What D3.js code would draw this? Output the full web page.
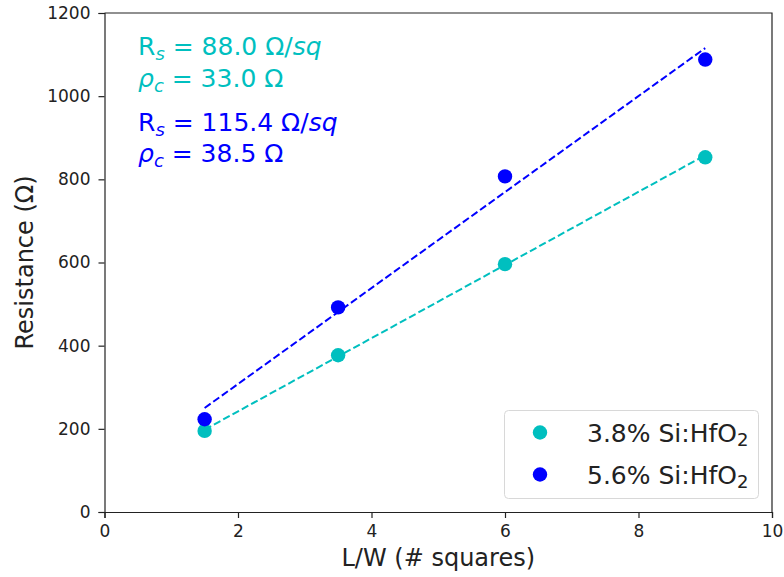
<!DOCTYPE html>
<meta charset="utf-8">
<style>
body { margin: 0; background: #fff; }
text { font-family: "DejaVu Sans", sans-serif; }
.axis text { font-size: 17px; fill: #222; font-family: "DejaVu Sans", sans-serif; }
.axis path, .axis line { stroke: #222; stroke-width: 1.2; }
</style>
<svg width="784" height="577"></svg>
<script src="https://d3js.org/d3.v7.min.js"></script>
<script>

var svg = d3.select("svg");

// measured points, L/W vs resistance
var squares = [1.5, 3.5, 6, 9];
var res38 = [195, 377, 596, 853];
var res56 = [223, 492, 807, 1088];

// linear fits: R = Rs * (L/W) + 2*rho_c
var fit38 = {rs: 88.0, rc: 33.0};
var fit56 = {rs: 115.4, rc: 38.5};

var labels = ["3.8% Si:HfO", "5.6% Si:HfO"];
var colors = ["#00bfbf", "#0000ff"];

var xTicks = [0, 2, 4, 6, 8, 10];
var yTicks = [0, 200, 400, 600, 800, 1000, 1200];

var x = d3.scaleLinear().domain([0, 10]).range([104.5, 772]);
var y = d3.scaleLinear().domain([0, 1200]).range([512, 13]);

svg.append("g")
    .attr("class", "axis")
    .attr("transform", "translate(0,512)")
    .call(d3.axisBottom(x).tickValues(xTicks).tickSize(6).tickPadding(7).tickFormat(d3.format("d")));

svg.append("g")
    .attr("class", "axis")
    .attr("transform", "translate(104.5,0)")
    .call(d3.axisLeft(y).tickValues(yTicks).tickSize(6).tickPadding(8).tickFormat(d3.format("d")));

// frame top/right
svg.append("path")
    .attr("d", "M" + x(0) + "," + y(1200) + "H" + x(10) + "V" + y(0))
    .attr("fill", "none")
    .attr("stroke", "#222")
    .attr("stroke-width", 1.2);

var series = [
  {vals: res38, fit: fit38, color: colors[0]},
  {vals: res56, fit: fit56, color: colors[1]}
];

series.forEach(function(s) {
  var xs = [squares[0], squares[squares.length - 1]];
  svg.append("path")
      .datum(xs)
      .attr("fill", "none")
      .attr("stroke", s.color)
      .attr("stroke-width", 2)
      .attr("stroke-dasharray", "7.4,3.2")
      .attr("d", d3.line()
        .x(function(d) { return x(d); })
        .y(function(d) { return y(s.fit.rs * d + 2 * s.fit.rc); }));

  svg.append("g").selectAll("circle")
    .data(squares)
    .enter().append("circle")
      .attr("cx", function(d) { return x(d); })
      .attr("cy", function(d, i) { return y(s.vals[i]); })
      .attr("r", 7.2)
      .attr("fill", s.color);
});

// annotations
function rsLine(yy, val, color) {
  var t = svg.append("text").attr("x", 138).attr("y", yy).attr("fill", color).attr("font-size", 25);
  t.append("tspan").text("R");
  t.append("tspan").attr("font-style", "italic").attr("font-size", 18).attr("dy", 5).text("s");
  t.append("tspan").attr("dy", -5).text(" = " + val.toFixed(1) + " \u03a9/");
  t.append("tspan").attr("font-style", "italic").text("sq");
}
function rcLine(yy, val, color) {
  var t = svg.append("text").attr("x", 138).attr("y", yy).attr("fill", color).attr("font-size", 25);
  t.append("tspan").attr("font-style", "italic").text("\u03c1");
  t.append("tspan").attr("font-style", "italic").attr("font-size", 18).attr("dy", 5).text("c");
  t.append("tspan").attr("dy", -5).text(" = " + val.toFixed(1) + " \u03a9");
}
rsLine(55, fit38.rs, colors[0]);
rcLine(87, fit38.rc, colors[0]);
rsLine(131, fit56.rs, colors[1]);
rcLine(162, fit56.rc, colors[1]);

// axis titles
svg.append("text")
    .attr("x", x(5)).attr("y", 566)
    .attr("text-anchor", "middle")
    .attr("font-size", 24)
    .attr("fill", "#222")
    .text("L/W (# squares)");

svg.append("text")
    .attr("transform", "translate(33," + y(600) + ") rotate(-90)")
    .attr("text-anchor", "middle")
    .attr("font-size", 24)
    .attr("fill", "#222")
    .text("Resistance (\u03a9)");

// legend
var lg = svg.append("g").attr("transform", "translate(504.5,410.5)");
lg.append("rect")
    .attr("width", 254).attr("height", 88)
    .attr("rx", 4)
    .attr("fill", "#fff")
    .attr("stroke", "#d8d8d8");
labels.forEach(function(l, i) {
  var yy = 22 + i * 42;
  lg.append("circle").attr("cx", 35.5).attr("cy", yy).attr("r", 7.2).attr("fill", colors[i]);
  var t = lg.append("text").attr("x", 82.5).attr("y", yy + 9).attr("font-size", 25).attr("fill", "#222");
  t.append("tspan").text(l);
  t.append("tspan").attr("font-size", 18).attr("dy", 4).text("2");
});

</script>
